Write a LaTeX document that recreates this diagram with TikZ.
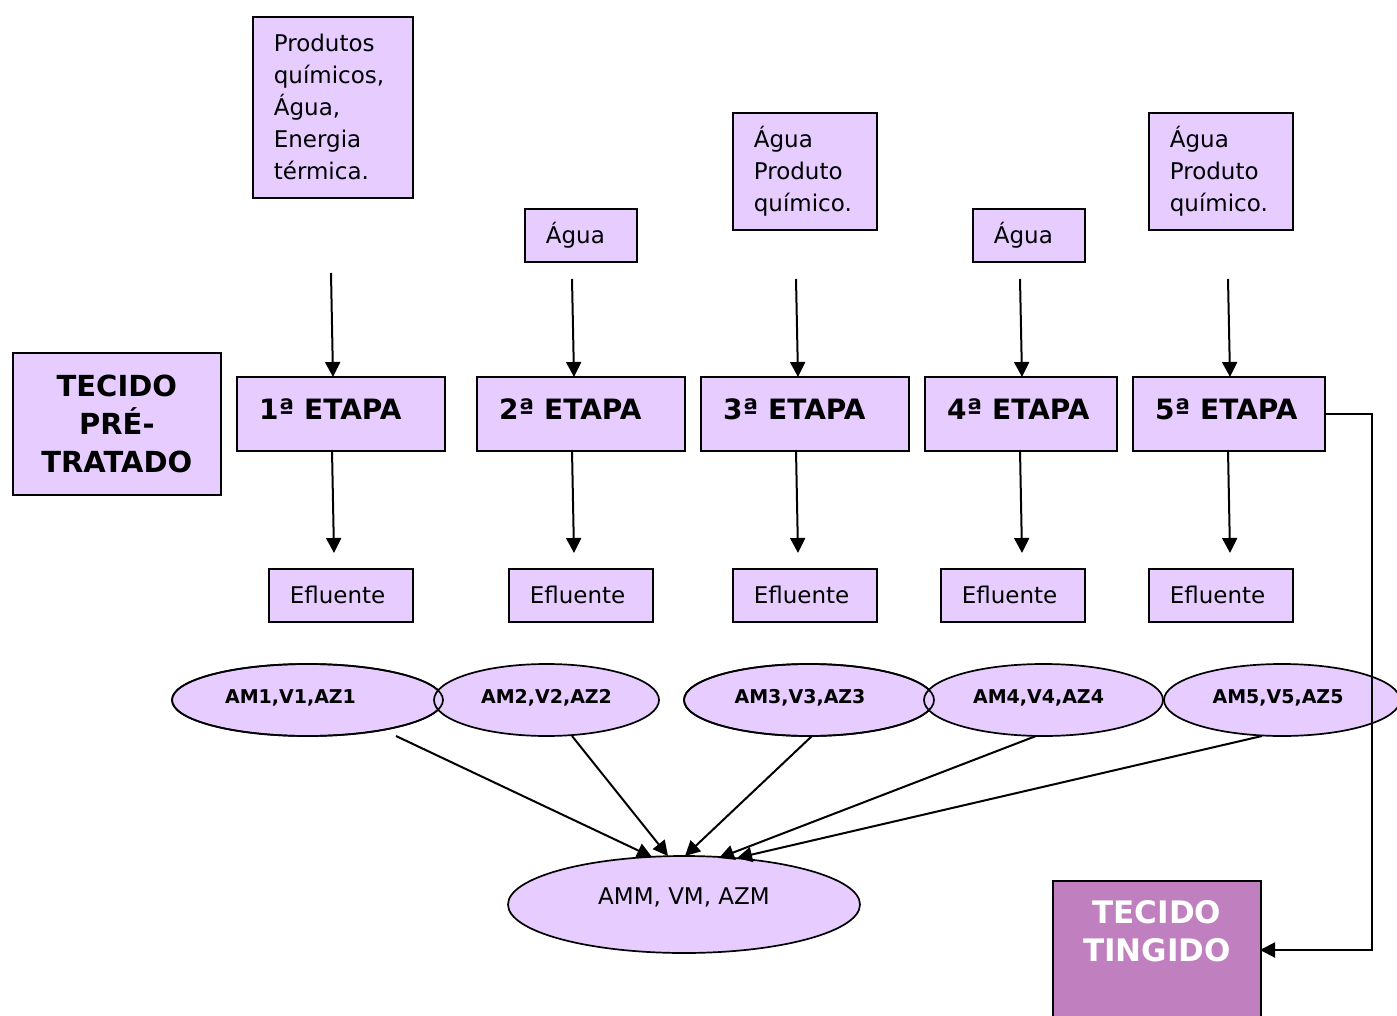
\documentclass[tikz,border=0pt]{standalone}
\usepackage{fontspec}
\setmainfont{DejaVu Sans}
\usetikzlibrary{shapes.geometric,arrows.meta}
\definecolor{lil}{RGB}{230,204,255}
\definecolor{mag}{RGB}{192,128,192}
\begin{document}
\begin{tikzpicture}[x=1pt,y=-1pt,
  box/.style={draw=black,line width=1.7pt,fill=lil,rectangle,inner sep=0pt,anchor=north west},
  intext/.style={font=\fontsize{23}{32}\selectfont,align=left},
  etxt/.style={anchor=west,inner sep=0pt,xshift=23pt,yshift=5pt,font=\bfseries\fontsize{28}{32}\selectfont},
  ell/.style={draw=black,line width=1.7pt,fill=lil,ellipse,inner sep=0pt},
  elab/.style={inner sep=0pt,yshift=2pt,font=\bfseries\fontsize{19}{22}\selectfont},
  arr/.style={line width=2pt,-{Triangle[length=15pt,width=15pt]}}]
\useasboundingbox (0,0) rectangle (1397,1016);
\clip (0,0) rectangle (1397,1016);

% input boxes
\node[box,intext,minimum width=160pt,minimum height=181pt,text width=118pt] (p1) at (252,16)
  {Produtos\\químicos,\\Água,\\Energia\\térmica.};
\node[box,intext,minimum width=112pt,minimum height=53pt,text width=70pt] (p2) at (524,208) {Água};
\node[box,intext,minimum width=144pt,minimum height=117pt,text width=102pt] (p3) at (732,112)
  {Água\\Produto\\químico.};
\node[box,intext,minimum width=112pt,minimum height=53pt,text width=70pt] (p4) at (972,208) {Água};
\node[box,intext,minimum width=144pt,minimum height=117pt,text width=102pt] (p5) at (1148,112)
  {Água\\Produto\\químico.};

% start box
\node[box,minimum width=208pt,minimum height=142pt,align=center,
  font=\bfseries\fontsize{29}{38}\selectfont] (tp) at (12,352) {TECIDO\\PRÉ-\\TRATADO};

% stages
\node[box,minimum width=208pt,minimum height=74pt,label={[etxt]west:1ª ETAPA}] (s1) at (236,376) {};
\node[box,minimum width=208pt,minimum height=74pt,label={[etxt]west:2ª ETAPA}] (s2) at (476,376) {};
\node[box,minimum width=208pt,minimum height=74pt,label={[etxt]west:3ª ETAPA}] (s3) at (700,376) {};
\node[box,minimum width=192pt,minimum height=74pt,label={[etxt]west:4ª ETAPA}] (s4) at (924,376) {};
\node[box,minimum width=192pt,minimum height=74pt,label={[etxt]west:5ª ETAPA}] (s5) at (1132,376) {};

% effluents
\node[box,intext,minimum width=144pt,minimum height=53pt,text width=102pt] (f1) at (268,568) {Efluente};
\node[box,intext,minimum width=144pt,minimum height=53pt,text width=102pt] (f2) at (508,568) {Efluente};
\node[box,intext,minimum width=144pt,minimum height=53pt,text width=102pt] (f3) at (732,568) {Efluente};
\node[box,intext,minimum width=144pt,minimum height=53pt,text width=102pt] (f4) at (940,568) {Efluente};
\node[box,intext,minimum width=144pt,minimum height=53pt,text width=102pt] (f5) at (1148,568) {Efluente};

% ellipses
\node[ell,minimum width=271pt,minimum height=72pt,label={[elab,xshift=-17pt]center:{AM1,V1,AZ1}}] (e1) at (307.5,700) {};
\node[ell,minimum width=225pt,minimum height=72pt,label={[elab]center:{AM2,V2,AZ2}}] (e2) at (546.5,700) {};
\node[ell,minimum width=250pt,minimum height=72pt,label={[elab,xshift=-9pt]center:{AM3,V3,AZ3}}] (e3) at (809,700) {};
\node[ell,minimum width=239pt,minimum height=72pt,label={[elab,xshift=-5pt]center:{AM4,V4,AZ4}}] (e4) at (1043.5,700) {};
\node[ell,minimum width=236pt,minimum height=72pt,label={[elab,xshift=-4pt]center:{AM5,V5,AZ5}}] (e5) at (1282,700) {};
% outlines visible through the overlaps
\draw[line width=1.7pt] (e1.center) ellipse [x radius=135.5, y radius=36];
\draw[line width=1.7pt] (e3.center) ellipse [x radius=125, y radius=36];

\node[ell,minimum width=352pt,minimum height=97pt,label={[inner sep=0pt,yshift=7pt,font=\fontsize{23}{28}\selectfont]center:{AMM, VM, AZM}}] (em) at (684,904.5) {};

% final box
\node[box,fill=mag,minimum width=208pt,minimum height=170pt,
  label={[anchor=north,inner sep=0pt,yshift=-20pt,align=center,text=white,font=\bfseries\fontsize{31}{38}\selectfont]north:{TECIDO\\TINGIDO}}] (tt) at (1052,880) {};

% coordinates
\coordinate (i1) at (331,273); \coordinate (i1e) at (333,377);
\coordinate (i2) at (572,279); \coordinate (i2e) at (574,377);
\coordinate (i3) at (796,279); \coordinate (i3e) at (798,377);
\coordinate (i4) at (1020,279); \coordinate (i4e) at (1022,377);
\coordinate (i5) at (1228,279); \coordinate (i5e) at (1230,377);
\coordinate (o1) at (332,450); \coordinate (o1e) at (334,553);
\coordinate (o2) at (572,450); \coordinate (o2e) at (574,553);
\coordinate (o3) at (796,450); \coordinate (o3e) at (798,553);
\coordinate (o4) at (1020,450); \coordinate (o4e) at (1022,553);
\coordinate (o5) at (1228,450); \coordinate (o5e) at (1230,553);
\coordinate (a1) at (396,736); \coordinate (a1e) at (652,857);
\coordinate (a2) at (572,736); \coordinate (a2e) at (668,856);
\coordinate (a3) at (812,736); \coordinate (a3e) at (685,856);
\coordinate (a4) at (1036,736); \coordinate (a4e) at (719,858);
\coordinate (a5) at (1262,736); \coordinate (a5e) at (737,858);
\coordinate (turn) at (1372,950); \coordinate (ttin) at (1260,950);

\foreach \k in {1,...,5} {
  \draw[arr] (i\k) -- (i\k e);
  \draw[arr] (o\k) -- (o\k e);
  \draw[arr] (a\k) -- (a\k e);
}
\draw[arr] (s5.east) -| (turn) -- (ttin);
\end{tikzpicture}
\end{document}
